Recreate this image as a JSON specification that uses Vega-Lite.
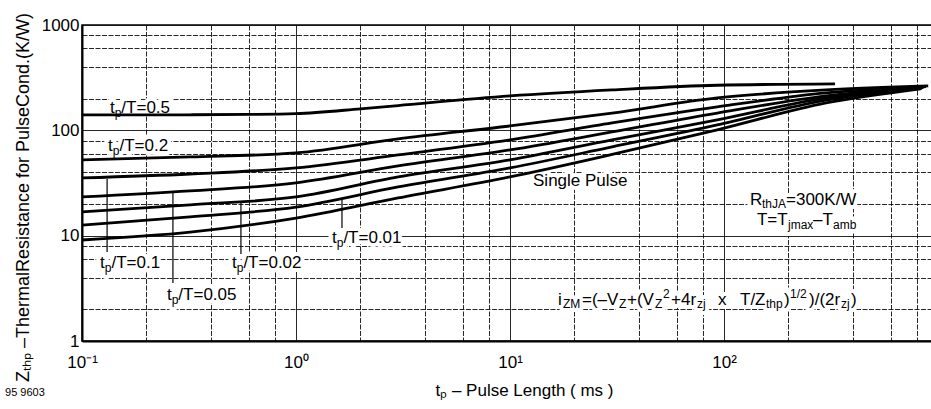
{
  "$schema": "https://vega.github.io/schema/vega-lite/v6.json",
  "autosize": {"type": "none"},
  "padding": {"left": 82, "top": 25, "right": 0, "bottom": 68},
  "width": 856,
  "height": 316,
  "background": "white",
  "config": {
    "view": {"stroke": "black", "strokeWidth": 1.5},
    "font": "Liberation Sans",
    "axis": {"labelFont": "Liberation Sans", "titleFont": "Liberation Sans"}
  },
  "datasets": {
    "curves": [
      {"series": "0.5", "x": 0.1, "y": 140}, {"series": "0.5", "x": 0.32, "y": 140.5}, {"series": "0.5", "x": 0.6, "y": 141.5}, {"series": "0.5", "x": 1, "y": 144}, {"series": "0.5", "x": 2, "y": 160}, {"series": "0.5", "x": 3, "y": 172}, {"series": "0.5", "x": 10, "y": 212}, {"series": "0.5", "x": 30, "y": 242}, {"series": "0.5", "x": 93, "y": 268}, {"series": "0.5", "x": 330, "y": 276},
      {"series": "0.2", "x": 0.1, "y": 52.4}, {"series": "0.2", "x": 0.32, "y": 55.9}, {"series": "0.2", "x": 1, "y": 61}, {"series": "0.2", "x": 3, "y": 82.9}, {"series": "0.2", "x": 10, "y": 110}, {"series": "0.2", "x": 30, "y": 146}, {"series": "0.2", "x": 93, "y": 203}, {"series": "0.2", "x": 300, "y": 242}, {"series": "0.2", "x": 900, "y": 264},
      {"series": "0.1", "x": 0.1, "y": 35.3}, {"series": "0.1", "x": 0.32, "y": 38.5}, {"series": "0.1", "x": 1, "y": 44}, {"series": "0.1", "x": 3, "y": 58.4}, {"series": "0.1", "x": 10, "y": 81.1}, {"series": "0.1", "x": 30, "y": 117.6}, {"series": "0.1", "x": 93, "y": 167}, {"series": "0.1", "x": 300, "y": 226.5}, {"series": "0.1", "x": 880, "y": 260},
      {"series": "0.05", "x": 0.1, "y": 23.3}, {"series": "0.05", "x": 0.32, "y": 26.6}, {"series": "0.05", "x": 1, "y": 31.7}, {"series": "0.05", "x": 3, "y": 45.9}, {"series": "0.05", "x": 10, "y": 65.2}, {"series": "0.05", "x": 30, "y": 96.6}, {"series": "0.05", "x": 93, "y": 146}, {"series": "0.05", "x": 300, "y": 212}, {"series": "0.05", "x": 860, "y": 257},
      {"series": "0.02", "x": 0.1, "y": 16.8}, {"series": "0.02", "x": 0.32, "y": 19.6}, {"series": "0.02", "x": 1, "y": 23.3}, {"series": "0.02", "x": 3, "y": 36.1}, {"series": "0.02", "x": 10, "y": 52.4}, {"series": "0.02", "x": 30, "y": 81.1}, {"series": "0.02", "x": 93, "y": 125.6}, {"series": "0.02", "x": 300, "y": 203}, {"series": "0.02", "x": 850, "y": 254},
      {"series": "0.01", "x": 0.1, "y": 12.6}, {"series": "0.01", "x": 0.32, "y": 15.1}, {"series": "0.01", "x": 1, "y": 18.7}, {"series": "0.01", "x": 3, "y": 29}, {"series": "0.01", "x": 10, "y": 44}, {"series": "0.01", "x": 30, "y": 69.6}, {"series": "0.01", "x": 93, "y": 112.5}, {"series": "0.01", "x": 300, "y": 194}, {"series": "0.01", "x": 840, "y": 251},
      {"series": "single", "x": 0.1, "y": 9.1}, {"series": "single", "x": 0.32, "y": 10.8}, {"series": "single", "x": 1, "y": 14.7}, {"series": "single", "x": 3, "y": 22.8}, {"series": "single", "x": 10, "y": 36.1}, {"series": "single", "x": 30, "y": 59}, {"series": "single", "x": 93, "y": 101}, {"series": "single", "x": 300, "y": 182}, {"series": "single", "x": 830, "y": 248}
    ],
    "tp": [
      {"x": 0.1351, "y": 146.3, "rest": "/T=0.5"},
      {"x": 0.1323, "y": 63.7, "rest": "/T=0.2"},
      {"x": 0.1214, "y": 4.93, "rest": "/T=0.1"},
      {"x": 0.2495, "y": 2.45, "rest": "/T=0.05"},
      {"x": 0.5022, "y": 4.93, "rest": "/T=0.02"},
      {"x": 1.473, "y": 8.52, "rest": "/T=0.01"}
    ],
    "pointers": [
      {"x": 0.131, "y": 7.0, "y2": 34.5},
      {"x": 0.266, "y": 3.55, "y2": 26},
      {"x": 0.553, "y": 6.7, "y2": 21.3},
      {"x": 1.64, "y": 11.8, "y2": 22.8}
    ],
    "pieces": [
      {"role": "main", "x": 12.81, "y": 29.6, "text": "Single Pulse"},
      {"role": "main", "x": 132.3, "y": 19.6, "text": "R"},
      {"role": "sub", "x": 150.5, "y": 19.6, "text": "thJA"},
      {"role": "main", "x": 194.9, "y": 19.6, "text": "=300K/W"},
      {"role": "main", "x": 142.6, "y": 12.5, "text": "T=T"},
      {"role": "sub", "x": 199.1, "y": 12.5, "text": "jmax"},
      {"role": "main", "x": 260.6, "y": 12.5, "text": "–T"},
      {"role": "sub", "x": 323.1, "y": 12.5, "text": "amb"},
      {"role": "main", "x": 16.76, "y": 2.197, "text": "i"},
      {"role": "sub", "x": 17.69, "y": 2.197, "text": "ZM"},
      {"role": "main", "x": 21.7, "y": 2.197, "text": "=(–V"},
      {"role": "sub", "x": 32.31, "y": 2.197, "text": "Z"},
      {"role": "main", "x": 35.22, "y": 2.197, "text": "+(V"},
      {"role": "sub", "x": 47.61, "y": 2.197, "text": "Z"},
      {"role": "sup", "x": 51.88, "y": 2.197, "text": "2"},
      {"role": "main", "x": 56.55, "y": 2.197, "text": "+4r"},
      {"role": "sub", "x": 74.78, "y": 2.197, "text": "zj"},
      {"role": "main", "x": 93.75, "y": 2.197, "text": "x"},
      {"role": "main", "x": 118.8, "y": 2.197, "text": "T/Z"},
      {"role": "sub", "x": 157.1, "y": 2.197, "text": "thp"},
      {"role": "main", "x": 190.7, "y": 2.197, "text": ")"},
      {"role": "sup", "x": 203.4, "y": 2.197, "text": "1/2"},
      {"role": "main", "x": 249.6, "y": 2.197, "text": ")/(2r"},
      {"role": "sub", "x": 352.2, "y": 2.197, "text": "zj"},
      {"role": "main", "x": 392.2, "y": 2.197, "text": ")"}
    ]
  },
  "encoding": {
    "x": {
      "field": "x", "type": "quantitative",
      "scale": {"type": "log", "domain": [0.1, 1000]},
      "axis": {
        "values": [0.1, 0.2, 0.4, 0.6, 0.8, 1, 2, 4, 6, 8, 10, 20, 40, 60, 80, 100, 200, 400, 600, 800, 1000],
        "labelExpr": "datum.value==0.1?'10⁻¹':datum.value==1?'10⁰':datum.value==10?'10¹':datum.value==100?'10²':''",
        "grid": true, "gridColor": "#111111", "gridWidth": 1, "gridOpacity": 0.9,
        "gridDash": {"condition": {"test": "indexof([0.1,1,10,100,1000], datum.value) < 0", "value": [5, 1.5]}, "value": []},
        "ticks": false, "domainColor": "black", "domainWidth": 2,
        "labelFontSize": 17, "labelColor": "black", "labelPadding": 13, "labelFlush": false, "labelOverlap": false,
        "title": "tₚ – Pulse Length ( ms )", "titleFontSize": 17, "titleFontWeight": "normal", "titleColor": "black", "titlePadding": 12, "titleX": 442
      }
    },
    "y": {
      "field": "y", "type": "quantitative",
      "scale": {"type": "log", "domain": [1, 1000]},
      "axis": {
        "values": [1, 2, 4, 6, 8, 10, 20, 40, 60, 80, 100, 200, 400, 600, 800, 1000],
        "labelExpr": "datum.value==1000?'1000':datum.value==100?'100':datum.value==10?'10':datum.value==1?'1':''",
        "grid": true, "gridColor": "#111111", "gridWidth": 1, "gridOpacity": 0.9,
        "gridDash": {"condition": {"test": "indexof([1,10,100,1000], datum.value) < 0", "value": [5, 1.5]}, "value": []},
        "ticks": false, "domainColor": "black", "domainWidth": 2,
        "labelFontSize": 17, "labelColor": "black", "labelPadding": 3, "labelOverlap": false,
        "title": "Zₜₕₚ –ThermalResistance for PulseCond.(K/W)", "titleFontSize": 18, "titleFontWeight": "normal", "titleColor": "black", "titlePadding": 9, "titleY": 172
      }
    }
  },
  "layer": [
    {"data": {"name": "tp"}, "mark": {"type": "text", "text": "t", "align": "left", "baseline": "alphabetic", "fontSize": 17, "fill": "white", "stroke": "white", "strokeWidth": 8, "strokeJoin": "round"}, "encoding": {}},
    {"data": {"name": "tp"}, "mark": {"type": "text", "text": "p", "align": "left", "baseline": "alphabetic", "fontSize": 12, "dx": 4.7, "dy": 4, "fill": "white", "stroke": "white", "strokeWidth": 8, "strokeJoin": "round"}, "encoding": {}},
    {"data": {"name": "tp"}, "mark": {"type": "text", "align": "left", "baseline": "alphabetic", "fontSize": 17, "dx": 11.4, "fill": "white", "stroke": "white", "strokeWidth": 8, "strokeJoin": "round"}, "encoding": {"text": {"field": "rest"}}},
    {"data": {"name": "pieces"}, "transform": [{"filter": "datum.role=='main'"}], "mark": {"type": "text", "align": "left", "baseline": "alphabetic", "fontSize": 17, "fill": "white", "stroke": "white", "strokeWidth": 8, "strokeJoin": "round"}, "encoding": {"text": {"field": "text"}}},
    {"data": {"name": "pieces"}, "transform": [{"filter": "datum.role=='sub'"}], "mark": {"type": "text", "align": "left", "baseline": "alphabetic", "fontSize": 12, "dy": 3.5, "fill": "white", "stroke": "white", "strokeWidth": 8, "strokeJoin": "round"}, "encoding": {"text": {"field": "text"}}},
    {"data": {"name": "pieces"}, "transform": [{"filter": "datum.role=='sup'"}], "mark": {"type": "text", "align": "left", "baseline": "alphabetic", "fontSize": 12, "dy": -7, "fill": "white", "stroke": "white", "strokeWidth": 8, "strokeJoin": "round"}, "encoding": {"text": {"field": "text"}}},
    {"data": {"name": "curves"}, "mark": {"type": "line", "color": "black", "strokeWidth": 2.8, "interpolate": "monotone"}, "encoding": {"detail": {"field": "series"}}},
    {"data": {"name": "pointers"}, "mark": {"type": "rule", "color": "black", "strokeWidth": 1.2}, "encoding": {"y2": {"field": "y2"}}},
    {"data": {"name": "tp"}, "mark": {"type": "text", "text": "t", "align": "left", "baseline": "alphabetic", "fontSize": 17, "fill": "black"}, "encoding": {}},
    {"data": {"name": "tp"}, "mark": {"type": "text", "text": "p", "align": "left", "baseline": "alphabetic", "fontSize": 12, "dx": 4.7, "dy": 4, "fill": "black"}, "encoding": {}},
    {"data": {"name": "tp"}, "mark": {"type": "text", "align": "left", "baseline": "alphabetic", "fontSize": 17, "dx": 11.4, "fill": "black"}, "encoding": {"text": {"field": "rest"}}},
    {"data": {"name": "pieces"}, "transform": [{"filter": "datum.role=='main'"}], "mark": {"type": "text", "align": "left", "baseline": "alphabetic", "fontSize": 17, "fill": "black"}, "encoding": {"text": {"field": "text"}}},
    {"data": {"name": "pieces"}, "transform": [{"filter": "datum.role=='sub'"}], "mark": {"type": "text", "align": "left", "baseline": "alphabetic", "fontSize": 12, "dy": 3.5, "fill": "black"}, "encoding": {"text": {"field": "text"}}},
    {"data": {"name": "pieces"}, "transform": [{"filter": "datum.role=='sup'"}], "mark": {"type": "text", "align": "left", "baseline": "alphabetic", "fontSize": 12, "dy": -7, "fill": "black"}, "encoding": {"text": {"field": "text"}}},
    {"data": {"values": [{"x": 0.0437, "y": 0.3004, "text": "95 9603"}]}, "mark": {"type": "text", "align": "left", "baseline": "alphabetic", "fontSize": 11, "fill": "black"}, "encoding": {"text": {"field": "text"}}}
  ]
}
